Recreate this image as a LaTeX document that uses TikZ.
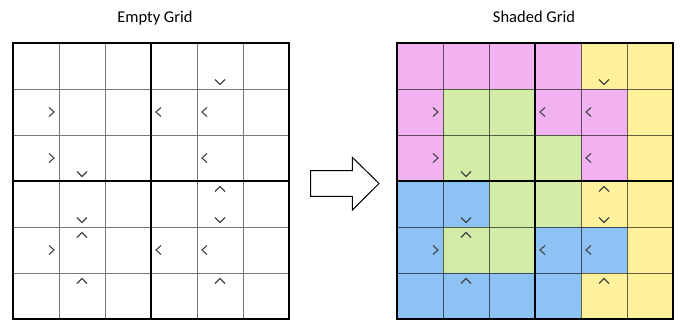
\documentclass[tikz,border=0pt]{standalone}
\usepackage{fontspec}
\setmainfont{Carlito}
\definecolor{cpink}{HTML}{F2B2F2}
\definecolor{cgreen}{HTML}{D3EDA9}
\definecolor{cyellow}{HTML}{FFF09B}
\definecolor{cblue}{HTML}{8DC2F5}
\definecolor{chevgray}{HTML}{444444}
\definecolor{gridgray}{HTML}{777777}
\newcommand\drawmarks[1]{%
  \foreach \r/\c in {1/0,2/0,4/0}
    \draw[chev,shift={(#1+46*\c+46-7.5,43+46*\r+23)}] (-2.5,-4.5)--(2.5,0)--(-2.5,4.5);
  \foreach \r/\c in {1/3,1/4,2/4,4/3,4/4}
    \draw[chev,shift={(#1+46*\c+7.5,43+46*\r+23)}] (2.5,-4.5)--(-2.5,0)--(2.5,4.5);
  \foreach \r/\c in {0/4,2/1,3/1,3/4}
    \draw[chev,shift={(#1+46*\c+23,43+46*\r+46-7)}] (-5,-2.5)--(0,2.5)--(5,-2.5);
  \foreach \r/\c in {3/4,4/1,5/1,5/4}
    \draw[chev,shift={(#1+46*\c+23,43+46*\r+8)}] (-5,2.5)--(0,-2.5)--(5,2.5);
}
\begin{document}
\begin{tikzpicture}[x=1pt,y=-1pt,
  chev/.style={draw=chevgray,line width=1.1pt},
  thinline/.style={draw=gridgray,line width=0.9pt},
  thinlineb/.style={draw=black,draw opacity=0.6,line width=0.9pt},
  thickline/.style={draw=black,line width=2pt},
  titletext/.style={font=\fontsize{16.5}{19}\selectfont,anchor=base,inner sep=0pt},
  bigarrow/.style={draw=black,fill=white,line width=1pt,line join=miter}]
\useasboundingbox (0,0) rectangle (688,332);
% titles
\node[titletext] (t1) at (155,22.7) {Empty Grid};
\node[titletext] (t2) at (534,22.7) {Shaded Grid};
% left grid
\foreach \i in {1,2,4,5} {
  \draw[thinline] (13+46*\i,43) -- (13+46*\i,319);
  \draw[thinline] (13,43+46*\i) -- (289,43+46*\i);
}
\draw[thickline] (151,43) -- (151,319);
\draw[thickline] (13,181) -- (289,181);
\draw[thickline] (13,43) rectangle (289,319);
\drawmarks{13}
% right grid fills
\foreach \row [count=\r from 0] in {
  {cpink,cpink,cpink,cpink,cyellow,cyellow},
  {cpink,cgreen,cgreen,cpink,cpink,cyellow},
  {cpink,cgreen,cgreen,cgreen,cpink,cyellow},
  {cblue,cblue,cgreen,cgreen,cyellow,cyellow},
  {cblue,cgreen,cgreen,cblue,cblue,cyellow},
  {cblue,cblue,cblue,cblue,cyellow,cyellow}} {
  \foreach \col [count=\c from 0] in \row {
    \fill[\col] (397+46*\c,43+46*\r) rectangle ++(46,46);
  }
}
\foreach \i in {1,2,4,5} {
  \draw[thinlineb] (397+46*\i,43) -- (397+46*\i,319);
  \draw[thinlineb] (397,43+46*\i) -- (673,43+46*\i);
}
\draw[thickline] (535,43) -- (535,319);
\draw[thickline] (397,181) -- (673,181);
\draw[thickline] (397,43) rectangle (673,319);
\drawmarks{397}
% arrow
\draw[bigarrow] (310.7,170.7) -- (352.3,170.7) -- (352.3,157.3) -- (379,183.5)
  -- (352.3,210) -- (352.3,196.3) -- (310.7,196.3) -- cycle;
\end{tikzpicture}
\end{document}
